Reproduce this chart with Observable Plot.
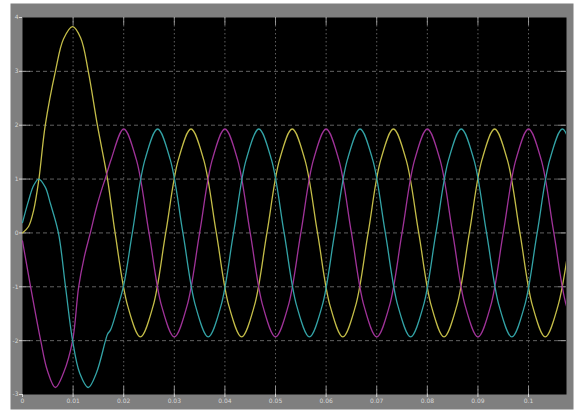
<!DOCTYPE html>
<html>
<head>
<meta charset="utf-8">
<script src="https://cdn.jsdelivr.net/npm/d3@7"></script>
<script src="https://cdn.jsdelivr.net/npm/@observablehq/plot@0.6"></script>
<style>
  html, body { margin: 0; padding: 0; background: #ffffff; }
  #chart svg { display: block; }
</style>
</head>
<body>
<div id="chart"></div>
<script>
// ---- Axis ticks ----
const xTicks = [0, 0.01, 0.02, 0.03, 0.04, 0.05, 0.06, 0.07, 0.08, 0.09, 0.1];
const xTickLabels = ["0", "0.01", "0.02", "0.03", "0.04", "0.05", "0.06", "0.07", "0.08", "0.09", "0.1"];
const yTicks = [-3, -2, -1, 0, 1, 2, 3, 4];
const yTickLabels = ["-3", "-2", "-1", "0", "1", "2", "3", "4"];

// ---- Series: yellow ----
const yellowT = [0, 0.0012, 0.0022, 0.0032, 0.0045, 0.0065, 0.0081, 0.0099, 0.0115, 0.0130, 0.0148, 0.0168,
  0.0183, 0.0208, 0.0233, 0.0258, 0.0283, 0.0308, 0.0333, 0.0358, 0.0383, 0.0408, 0.0433, 0.0458,
  0.0483, 0.0508, 0.0533, 0.0558, 0.0583, 0.0608, 0.0633, 0.0658, 0.0683, 0.0708, 0.0733, 0.0758,
  0.0783, 0.0808, 0.0833, 0.0858, 0.0883, 0.0908, 0.0933, 0.0958, 0.0983, 0.1008, 0.1033, 0.1058, 0.1083];
const yellowV = [0.0, 0.12, 0.42, 0.97, 2.0, 3.0, 3.6, 3.83, 3.62, 3.0, 2.0, 1.0,
  0, -1.36, -1.93, -1.36, 0, 1.36, 1.93, 1.36, 0, -1.36, -1.93, -1.36,
  0, 1.36, 1.93, 1.36, 0, -1.36, -1.93, -1.36, 0, 1.36, 1.93, 1.36,
  0, -1.36, -1.93, -1.36, 0, 1.36, 1.93, 1.36, 0, -1.36, -1.93, -1.36, 0];

// ---- Series: magenta ----
const magentaT = [0, 0.0016, 0.0036, 0.0049, 0.0065, 0.0081, 0.0099, 0.0111, 0.0122, 0.0134, 0.0147, 0.0158, 0.0164,
  0.0175, 0.02, 0.0225, 0.025, 0.0275, 0.03, 0.0325, 0.035, 0.0375, 0.04, 0.0425, 0.045, 0.0475,
  0.05, 0.0525, 0.055, 0.0575, 0.06, 0.0625, 0.065, 0.0675, 0.07, 0.0725, 0.075, 0.0775, 0.08,
  0.0825, 0.085, 0.0875, 0.09, 0.0925, 0.095, 0.0975, 0.1, 0.1025, 0.105, 0.1075, 0.11];
const magentaV = [-0.15, -1.0, -2.0, -2.55, -2.87, -2.6, -2.0, -1.0, -0.45, 0.0, 0.5, 0.85, 1.02,
  1.36, 1.93, 1.36, 0, -1.36, -1.93, -1.36, 0, 1.36, 1.93, 1.36, 0, -1.36,
  -1.93, -1.36, 0, 1.36, 1.93, 1.36, 0, -1.36, -1.93, -1.36, 0, 1.36, 1.93,
  1.36, 0, -1.36, -1.93, -1.36, 0, 1.36, 1.93, 1.36, 0, -1.36, -1.93];

// ---- Series: cyan ----
const cyanT = [0, 0.0012, 0.0022, 0.0032, 0.0045, 0.0055, 0.0071, 0.0085, 0.0099, 0.0113, 0.0130, 0.0146, 0.0164, 0.0168, 0.0174, 0.0186, 0.0200,
  0.0217, 0.0242, 0.0267, 0.0292, 0.0317, 0.0342, 0.0367, 0.0392, 0.0417, 0.0442, 0.0467, 0.0492,
  0.0517, 0.0542, 0.0567, 0.0592, 0.0617, 0.0642, 0.0667, 0.0692, 0.0717, 0.0742, 0.0767, 0.0792,
  0.0817, 0.0842, 0.0867, 0.0892, 0.0917, 0.0942, 0.0967, 0.0992, 0.1017, 0.1042, 0.1067, 0.1092];
const cyanV = [0.19, 0.6, 0.88, 1.0, 0.85, 0.55, 0.0, -1.0, -2.0, -2.6, -2.87, -2.6, -2.0, -1.88, -1.8, -1.45, -0.97,
  0, 1.36, 1.93, 1.36, 0, -1.36, -1.93, -1.36, 0, 1.36, 1.93, 1.36,
  0, -1.36, -1.93, -1.36, 0, 1.36, 1.93, 1.36, 0, -1.36, -1.93, -1.36,
  0, 1.36, 1.93, 1.36, 0, -1.36, -1.93, -1.36, 0, 1.36, 1.93, 1.36];

const toRows = (ts, vs) => ts.map((t, i) => ({t, v: vs[i]}));
const yellow = toRows(yellowT, yellowV);
const magenta = toRows(magentaT, magentaV);
const cyan = toRows(cyanT, cyanV);

const xGrid = xTicks.filter(d => d > 0);
const yGrid = yTicks.filter(d => d > -3 && d < 4);

const chart = Plot.plot({
  width: 577,
  height: 412,
  marginLeft: 22,
  marginRight: 11,
  marginTop: 17,
  marginBottom: 18,
  style: {background: "transparent", color: "#d8d8d8", fontFamily: "DejaVu Sans, sans-serif"},
  x: {domain: [0, 0.1075], axis: null},
  y: {domain: [-3, 4], axis: null},
  marks: [
    Plot.frame({fill: "#7f7f7f", stroke: null, insetLeft: -12, insetTop: -14, insetRight: -7, insetBottom: -15}),
    Plot.frame({fill: "#000000", stroke: null}),
    Plot.ruleX(xGrid, {x: d => d, stroke: "#7a7a7a", strokeWidth: 0.8, strokeDasharray: "1.5,2.5"}),
    Plot.ruleY(yGrid, {y: d => d, stroke: "#7a7a7a", strokeWidth: 0.8, strokeDasharray: "4,3"}),
    Plot.tickX(xGrid, {x: d => d, stroke: "#b0b0b0", strokeWidth: 0.8, insetTop: 369}),
    Plot.tickX(xGrid, {x: d => d, stroke: "#b0b0b0", strokeWidth: 0.8, insetBottom: 369}),
    Plot.tickY(yGrid, {y: d => d, stroke: "#b0b0b0", strokeWidth: 0.8, insetRight: 536}),
    Plot.tickY(yGrid, {y: d => d, stroke: "#b0b0b0", strokeWidth: 0.8, insetLeft: 536}),
    Plot.line(yellow, {x: "t", y: "v", stroke: "#c4bd48", strokeWidth: 1.3, curve: "catmull-rom", clip: true}),
    Plot.line(magenta, {x: "t", y: "v", stroke: "#a03399", strokeWidth: 1.3, curve: "catmull-rom", clip: true}),
    Plot.line(cyan, {x: "t", y: "v", stroke: "#33a3a6", strokeWidth: 1.3, curve: "catmull-rom", clip: true}),
    Plot.axisX(xTicks, {anchor: "bottom", tickSize: 3, tickPadding: 1.5, fontSize: 6,
      tickFormat: d => xTickLabels[xTicks.indexOf(d)], label: null, color: "#d8d8d8"}),
    Plot.axisY(yTicks, {anchor: "left", tickSize: 3, tickPadding: 1, fontSize: 6,
      tickFormat: d => yTickLabels[yTicks.indexOf(d)], label: null, color: "#d8d8d8"})
  ]
});
document.getElementById("chart").appendChild(chart);
</script>
</body>
</html>
